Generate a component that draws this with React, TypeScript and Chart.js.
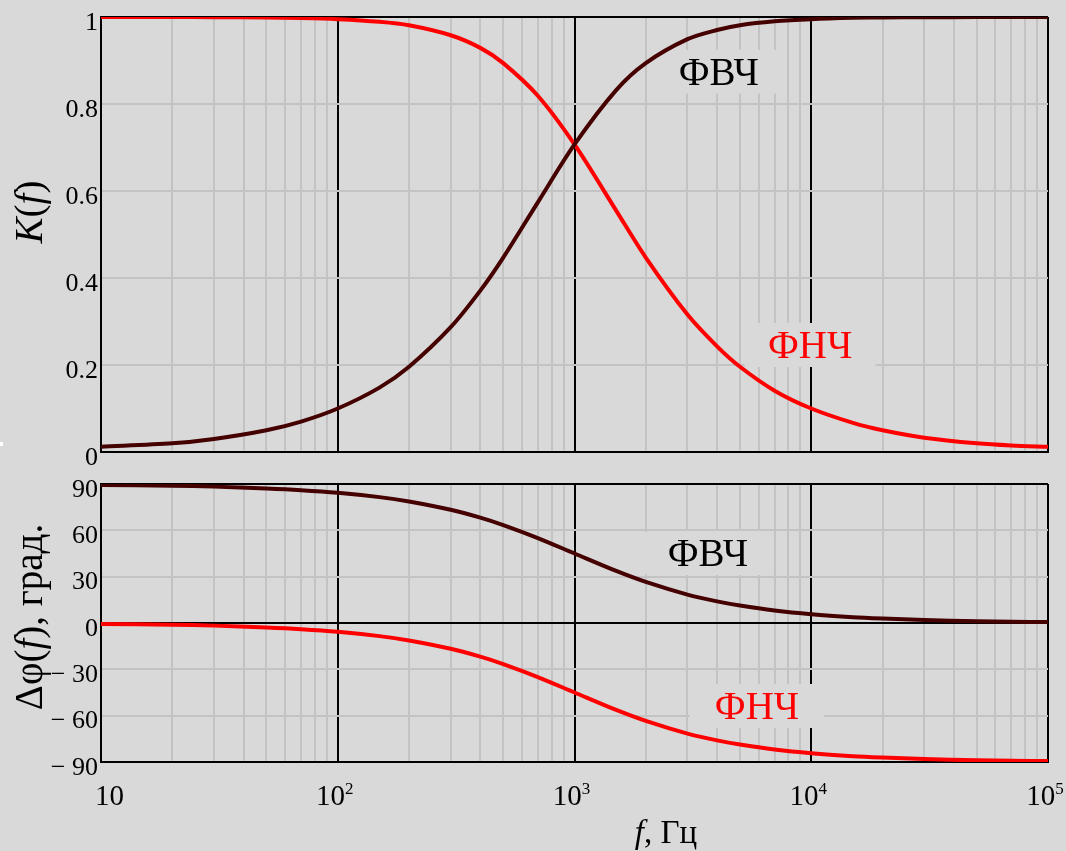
import { useEffect, useRef } from "react";
import { Chart, registerables } from "chart.js";

Chart.register(...registerables);

// ---------- data ----------
const freqHz = [10, 20, 30, 50, 70, 100, 150, 200, 300, 400, 500, 700, 1000, 1500, 2000, 3000, 4000, 5000, 7000, 10000, 15000, 20000, 30000, 50000, 70000, 100000];
const gainHPF = [0.012, 0.02, 0.03, 0.05, 0.07, 0.1, 0.148, 0.196, 0.287, 0.371, 0.447, 0.574, 0.707, 0.832, 0.894, 0.949, 0.97, 0.981, 0.99, 0.995, 0.998, 0.999, 0.9994, 0.9998, 0.9999, 1.0];
const gainLPF = [1.0, 0.9998, 0.9996, 0.9988, 0.9976, 0.995, 0.989, 0.981, 0.958, 0.929, 0.894, 0.819, 0.707, 0.555, 0.447, 0.316, 0.243, 0.196, 0.141, 0.1, 0.067, 0.05, 0.033, 0.02, 0.015, 0.012];
const phaseHPF = [89.4, 88.9, 88.3, 87.1, 86.0, 84.3, 81.5, 78.7, 73.3, 68.2, 63.4, 55.0, 45.0, 33.7, 26.6, 18.4, 14.0, 11.3, 8.1, 5.7, 3.8, 2.9, 1.9, 1.2, 0.8, 0.6];
const phaseLPF = [-0.6, -1.1, -1.7, -2.9, -4.0, -5.7, -8.5, -11.3, -16.7, -21.8, -26.6, -35.0, -45.0, -56.3, -63.4, -71.6, -76.0, -78.7, -81.9, -84.3, -86.2, -87.1, -88.1, -88.9, -89.2, -89.4];

const gainTickValues = [0, 0.2, 0.4, 0.6, 0.8, 1];
const gainTickLabels = ["0", "0.2", "0.4", "0.6", "0.8", "1"];
const phaseTickValues = [-90, -60, -30, 0, 30, 60, 90];
const phaseTickLabels = ["\u2212 90", "\u2212 60", "\u2212 30", "0", "30", "60", "90"];
const decadeValues = [10, 100, 1000, 10000, 100000];
const decadeExponents = ["", "2", "3", "4", "5"];

const topCurveLabels = [
  { text: "ФВЧ", color: "#000000", f: 4070, v: 0.874 },
  { text: "ФНЧ", color: "#ff0000", f: 9900, v: 0.246 },
];
const bottomCurveLabels = [
  { text: "ФВЧ", color: "#000000", f: 3660, v: 45.3 },
  { text: "ФНЧ", color: "#ff0000", f: 5900, v: -53.7 },
];

// ---------- styles ----------
const BG = "#d9d9d9";
const GRID = "#c3c3c3";
const RED = "#ff0000";
const DARK = "#450000";
const SERIF = '"Liberation Serif", "Times New Roman", serif';
const W = 1066;
const TOP_H = 470;
const BOT_H = 381;

const font = (size: number, italic = false) => `${italic ? "italic " : ""}${size}px ${SERIF}`;

// minor + major log grid positions
const xGridValues: number[] = [];
for (let e = 1; e <= 4; e++) {
  for (let m = 1; m <= 9; m++) xGridValues.push(m * Math.pow(10, e));
}
xGridValues.push(100000);

const isDecade = (v: number) => {
  if (!v) return false;
  const l = Math.log10(v);
  return Math.abs(l - Math.round(l)) < 1e-9;
};

type Part = { t: string; italic?: boolean };

function drawParts(ctx: CanvasRenderingContext2D, parts: Part[], size: number, cx: number, baseY: number) {
  let total = 0;
  const widths = parts.map((p) => {
    ctx.font = font(size, p.italic);
    const w = ctx.measureText(p.t).width;
    total += w;
    return w;
  });
  let x = cx - total / 2;
  ctx.textAlign = "left";
  ctx.textBaseline = "alphabetic";
  parts.forEach((p, i) => {
    ctx.font = font(size, p.italic);
    ctx.fillText(p.t, x, baseY);
    x += widths[i];
  });
}

function roundRect(ctx: CanvasRenderingContext2D, x: number, y: number, w: number, h: number, r: number) {
  ctx.beginPath();
  ctx.moveTo(x + r, y);
  ctx.lineTo(x + w - r, y);
  ctx.quadraticCurveTo(x + w, y, x + w, y + r);
  ctx.lineTo(x + w, y + h - r);
  ctx.quadraticCurveTo(x + w, y + h, x + w - r, y + h);
  ctx.lineTo(x + r, y + h);
  ctx.quadraticCurveTo(x, y + h, x, y + h - r);
  ctx.lineTo(x, y + r);
  ctx.quadraticCurveTo(x, y, x + r, y);
  ctx.closePath();
}

function makePlugin(opts: {
  labels: { text: string; color: string; f: number; v: number }[];
  tickValues: number[];
  tickLabels: string[];
  yTitle: Part[];
  yTitleCenter: number;
  xAxisLabels: boolean;
  extra?: (ctx: CanvasRenderingContext2D, chart: any) => void;
}) {
  const LABEL_SIZE = 39;
  return {
    id: "customText",
    beforeDatasetsDraw(chart: any) {
      const ctx = chart.ctx as CanvasRenderingContext2D;
      const xs = chart.scales.x;
      const ys = chart.scales.y;
      ctx.save();
      opts.labels.forEach((l) => {
        const cx = xs.getPixelForValue(l.f);
        const cy = ys.getPixelForValue(l.v);
        ctx.font = font(LABEL_SIZE);
        const w = ctx.measureText(l.text).width + 50;
        const h = 44;
        ctx.fillStyle = BG;
        roundRect(ctx, cx - w / 2, cy - h / 2, w, h, 7);
        ctx.fill();
      });
      ctx.restore();
    },
    afterDraw(chart: any) {
      const ctx = chart.ctx as CanvasRenderingContext2D;
      const xs = chart.scales.x;
      const ys = chart.scales.y;
      const area = chart.chartArea;
      ctx.save();
      // curve labels
      opts.labels.forEach((l) => {
        const cx = xs.getPixelForValue(l.f);
        const cy = ys.getPixelForValue(l.v);
        ctx.fillStyle = l.color;
        drawParts(ctx, [{ t: l.text }], LABEL_SIZE, cx, cy + LABEL_SIZE * 0.33);
      });
      // y tick labels
      ctx.fillStyle = "#000";
      ctx.font = font(26);
      ctx.textAlign = "right";
      ctx.textBaseline = "alphabetic";
      opts.tickValues.forEach((v, i) => {
        const py = ys.getPixelForValue(v);
        ctx.fillText(opts.tickLabels[i], area.left - 3, py + 12.5);
      });
      // y title (rotated)
      ctx.save();
      ctx.translate(42, opts.yTitleCenter);
      ctx.rotate(-Math.PI / 2);
      drawParts(ctx, opts.yTitle, 39, 0, 0);
      ctx.restore();
      // x tick labels
      if (opts.xAxisLabels) {
        decadeValues.forEach((v, i) => {
          const px = xs.getPixelForValue(v);
          const exp = decadeExponents[i];
          ctx.font = font(29);
          const bw = ctx.measureText("10").width;
          ctx.font = font(17);
          const ew = exp ? ctx.measureText(exp).width : 0;
          const left = exp ? px - (bw + ew) / 2 - 3 : px - 6;
          ctx.textAlign = "left";
          ctx.font = font(29);
          ctx.fillText("10", left, area.bottom + 43);
          if (exp) {
            ctx.font = font(17);
            ctx.fillText(exp, left + bw, area.bottom + 32);
          }
        });
        drawParts(ctx, [{ t: "f", italic: true }, { t: ", Гц" }], 33, 666, area.bottom + 81);
      }
      if (opts.extra) opts.extra(ctx, chart);
      ctx.restore();
    },
  };
}

function xScale() {
  return {
    type: "logarithmic" as const,
    min: 10,
    max: 100000,
    afterBuildTicks: (s: any) => {
      s.ticks = xGridValues.map((value) => ({ value }));
    },
    ticks: { display: false, callback: () => "" },
    grid: {
      color: (c: any) => (c.tick && isDecade(c.tick.value) ? "#000000" : GRID),
      lineWidth: 2,
      drawTicks: false,
    },
    border: { display: true, color: "#000000", width: 2 },
  };
}

function yScale(min: number, max: number, values: number[], blackAt: number[]) {
  return {
    type: "linear" as const,
    min,
    max,
    afterBuildTicks: (s: any) => {
      s.ticks = values.map((value) => ({ value }));
    },
    ticks: { display: false, callback: () => "" },
    grid: {
      color: (c: any) => (c.tick && blackAt.includes(c.tick.value) ? "#000000" : GRID),
      lineWidth: 2,
      drawTicks: false,
    },
    border: { display: true, color: "#000000", width: 2 },
  };
}

const points = (ys: number[]) => freqHz.map((f, i) => ({ x: f, y: ys[i] }));

export default function App() {
  const topRef = useRef<HTMLCanvasElement>(null);
  const botRef = useRef<HTMLCanvasElement>(null);

  useEffect(() => {
    Chart.defaults.font.family = SERIF;
    const common = {
      responsive: false,
      animation: false as const,
      plugins: { legend: { display: false }, tooltip: { enabled: false } },
      elements: { point: { radius: 0 } },
    };

    const c1 = new Chart(topRef.current as HTMLCanvasElement, {
      type: "line",
      data: {
        datasets: [
          { data: points(gainHPF), borderColor: DARK, borderWidth: 4, tension: 0.3 },
          { data: points(gainLPF), borderColor: RED, borderWidth: 4, tension: 0.3 },
        ],
      },
      options: {
        ...common,
        layout: { padding: { left: 101, top: 17, right: W - 1048, bottom: TOP_H - 452 } },
        scales: { x: xScale(), y: yScale(0, 1, gainTickValues, [1]) },
      } as any,
      plugins: [
        makePlugin({
          labels: topCurveLabels,
          tickValues: gainTickValues,
          tickLabels: gainTickLabels,
          yTitle: [{ t: "K", italic: true }, { t: "(" }, { t: "f", italic: true }, { t: ")" }],
          yTitleCenter: 212,
          xAxisLabels: false,
          extra: (ctx) => {
            ctx.fillStyle = "#ffffff";
            ctx.fillRect(0, 442, 3, 4);
          },
        }) as any,
      ],
    });

    const c2 = new Chart(botRef.current as HTMLCanvasElement, {
      type: "line",
      data: {
        datasets: [
          { data: points(phaseHPF), borderColor: DARK, borderWidth: 4, tension: 0.3 },
          { data: points(phaseLPF), borderColor: RED, borderWidth: 4, tension: 0.3 },
        ],
      },
      options: {
        ...common,
        layout: { padding: { left: 101, top: 484 - TOP_H, right: W - 1048, bottom: TOP_H + BOT_H - 762 } },
        scales: { x: xScale(), y: yScale(-90, 90, phaseTickValues, [0, 90]) },
      } as any,
      plugins: [
        makePlugin({
          labels: bottomCurveLabels,
          tickValues: phaseTickValues,
          tickLabels: phaseTickLabels,
          yTitle: [{ t: "Δφ(" }, { t: "f", italic: true }, { t: "), град." }],
          yTitleCenter: 617 - TOP_H,
          xAxisLabels: true,
        }) as any,
      ],
    });

    return () => {
      c1.destroy();
      c2.destroy();
    };
  }, []);

  return (
    <div style={{ position: "fixed", left: 0, top: 0, width: W, height: TOP_H + BOT_H, background: BG, overflow: "hidden" }}>
      <canvas ref={topRef} width={W} height={TOP_H} style={{ position: "absolute", left: 0, top: 0 }} />
      <canvas ref={botRef} width={W} height={BOT_H} style={{ position: "absolute", left: 0, top: TOP_H }} />
    </div>
  );
}
